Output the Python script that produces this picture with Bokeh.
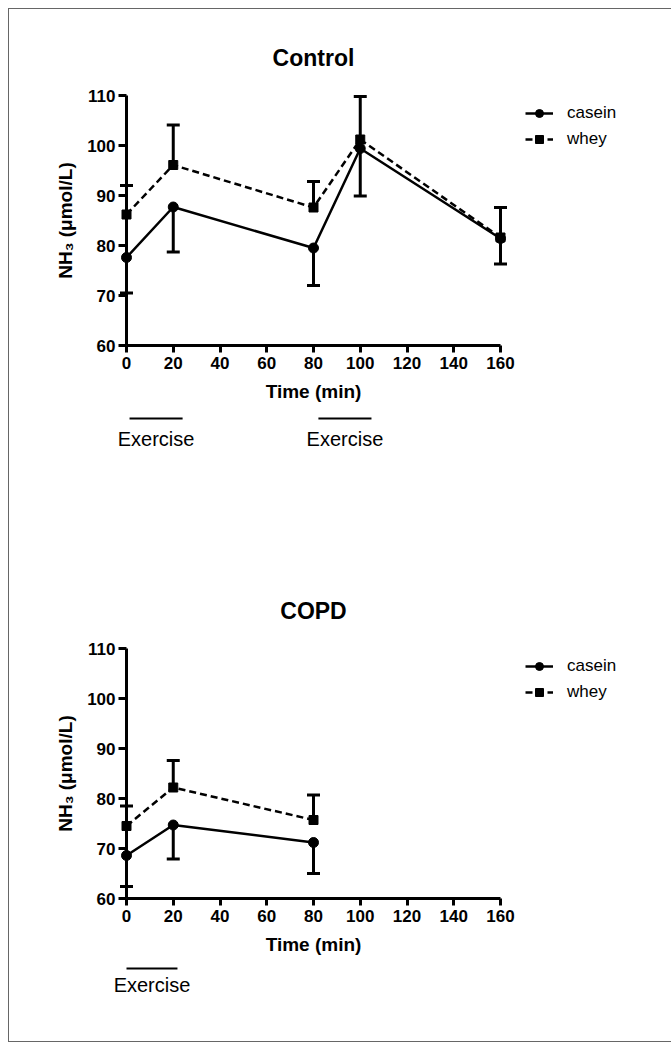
from bokeh.plotting import figure
from bokeh.layouts import column
from bokeh.models import (ColumnDataSource, FixedTicker, Legend, LegendItem, Range1d)
from bokeh.embed import file_html
from bokeh.resources import INLINE
from bokeh.core.properties import value

# ---------------- data ----------------
x_ticks = [0, 20, 40, 60, 80, 100, 120, 140, 160]
y_ticks = [60, 70, 80, 90, 100, 110]

ctrl_time = [0, 20, 80, 100, 160]
ctrl_casein = [77.6, 87.7, 79.5, 99.4, 81.4]
ctrl_casein_sem = [7.1, 9.0, 7.5, 9.5, 5.1]
ctrl_whey = [86.2, 96.1, 87.6, 101.2, 81.6]
ctrl_whey_sem = [5.8, 8.0, 5.2, 8.6, 6.0]

copd_time = [0, 20, 80]
copd_casein = [68.6, 74.7, 71.2]
copd_casein_sem = [6.2, 6.8, 6.2]
copd_whey = [74.5, 82.2, 75.7]
copd_whey_sem = [4.0, 5.4, 5.0]

series_names = ["casein", "whey"]
x_label = "Time (min)"
y_label = "NH\u2083 (\u03bcmol/L)"
exercise_text = "Exercise"

# exercise bars (start, end) in minutes
ctrl_exercise = [(1.3, 24.0), (82.1, 104.8)]
copd_exercise = [(0.0, 21.8)]

FONT = "Liberation Sans"


def make_panel(title, t, cas, cas_e, whey, whey_e, top_b, bot_b, exercises, bar_y, text_y):
    p = figure(frame_width=374, frame_height=250,
               min_border_left=117, min_border_right=162,
               min_border_top=top_b, min_border_bottom=bot_b,
               x_range=Range1d(0, 160), y_range=Range1d(60, 110),
               output_backend="svg", toolbar_location=None, tools="")
    p.grid.visible = False
    p.outline_line_color = None
    p.background_fill_color = "white"
    p.border_fill_color = "white"

    for ax in (p.xaxis[0], p.yaxis[0]):
        ax.axis_line_width = 3
        ax.axis_line_color = "black"
        ax.major_tick_line_width = 3
        ax.major_tick_line_color = "black"
        ax.minor_tick_line_color = None
        ax.major_tick_in = 0
        ax.major_label_text_font = FONT
        ax.major_label_text_font_style = "bold"
        ax.major_label_text_font_size = "17px"
        ax.major_label_text_color = "black"
        ax.axis_label_text_font = FONT
        ax.axis_label_text_font_style = "bold"
        ax.axis_label_text_font_size = "19px"
        ax.axis_label_text_color = "black"
    p.xaxis.ticker = FixedTicker(ticks=x_ticks)
    p.yaxis.ticker = FixedTicker(ticks=y_ticks)
    p.xaxis.major_tick_out = 7
    p.xaxis.major_label_standoff = 4
    p.xaxis.axis_label = x_label
    p.xaxis.axis_label_standoff = 9
    p.yaxis.major_tick_out = 8
    p.yaxis.major_label_standoff = 3
    p.yaxis.axis_label = y_label
    p.yaxis.axis_label_standoff = 8

    src = ColumnDataSource(dict(
        t=t, cas=cas, whey=whey,
        cas_lo=[c - e for c, e in zip(cas, cas_e)],
        whey_hi=[w + e for w, e in zip(whey, whey_e)],
    ))

    # one-sided error bars: casein downward, whey upward
    p.segment(x0="t", y0="cas", x1="t", y1="cas_lo", source=src,
              line_width=3, line_color="black", level="overlay")
    p.scatter("t", "cas_lo", source=src, marker="dash", size=13,
              line_width=3, line_color="black", level="overlay")
    p.segment(x0="t", y0="whey", x1="t", y1="whey_hi", source=src,
              line_width=3, line_color="black", level="overlay")
    p.scatter("t", "whey_hi", source=src, marker="dash", size=13,
              line_width=3, line_color="black", level="overlay")

    l1 = p.line("t", "cas", source=src, line_width=2.5, line_color="black", level="overlay")
    s1 = p.scatter("t", "cas", source=src, marker="circle", size=10,
                   fill_color="black", line_color="black", level="overlay")
    l2 = p.line("t", "whey", source=src, line_width=2.5, line_color="black",
                line_dash="7 4", level="overlay")
    s2 = p.scatter("t", "whey", source=src, marker="square", size=9,
                   fill_color="black", line_color="black", level="overlay")

    legend = Legend(items=[LegendItem(label=series_names[0], renderers=[l1, s1]),
                           LegendItem(label=series_names[1], renderers=[l2, s2])],
                    location=(25, 196), orientation="vertical", padding=0, spacing=6,
                    glyph_width=28, glyph_height=20, label_height=20, label_standoff=14,
                    border_line_color=None, background_fill_alpha=0, margin=0,
                    label_text_font=FONT, label_text_font_size="17px",
                    label_text_color="black")
    p.add_layout(legend, "right")

    p.text(x=[80], y=[117.6], text=[title], text_align="center",
           text_baseline="middle", text_font=value(FONT), text_font_style="bold",
           text_font_size="23px", text_color="black", level="overlay")

    ex_src = ColumnDataSource(dict(
        x0=[e[0] for e in exercises], x1=[e[1] for e in exercises],
        xm=[(e[0] + e[1]) / 2 for e in exercises],
        yb=[bar_y] * len(exercises), yt=[text_y] * len(exercises),
        label=[exercise_text] * len(exercises),
    ))
    p.segment(x0="x0", y0="yb", x1="x1", y1="yb", source=ex_src,
              line_width=2, line_color="black", level="overlay")
    p.text(x="xm", y="yt", text="label", source=ex_src, text_align="center",
           text_baseline="middle", text_font=value(FONT), text_font_size="20px",
           text_color="black", level="overlay")
    return p


p1 = make_panel("Control", ctrl_time, ctrl_casein, ctrl_casein_sem, ctrl_whey, ctrl_whey_sem,
                86, 180, ctrl_exercise, 45.4, 41.4)
p2 = make_panel("COPD", copd_time, copd_casein, copd_casein_sem, copd_whey, copd_whey_sem,
                123, 143, copd_exercise, 46.0, 42.8)

layout = column(p1, p2, spacing=0, margin=(8, 0, 0, 8),
                styles={"border": "1px solid #666666"})

with open("out.html", "w") as f:
    f.write(file_html(layout, INLINE))
